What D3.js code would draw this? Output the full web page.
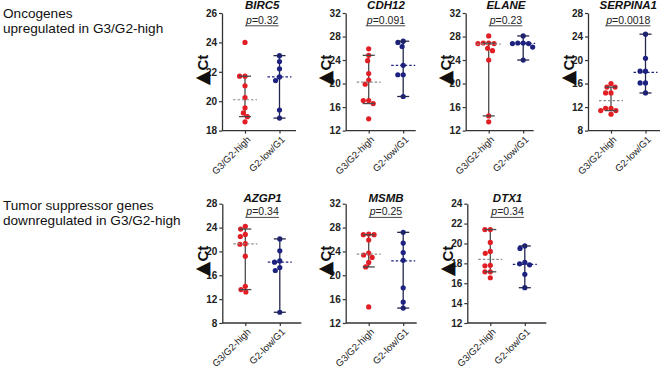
<!DOCTYPE html>
<html><head><meta charset="utf-8">
<script src="https://cdn.jsdelivr.net/npm/d3@7"></script>
<style>
body{margin:0;background:#fff}
svg{display:block}
text{font-family:"Liberation Sans",Arial,Helvetica,sans-serif}
</style>
</head><body>
<svg id="c" width="669" height="369"></svg>
<script>
// ---------- data ----------
const genes = ["BIRC5","CDH12","ELANE","SERPINA1","AZGP1","MSMB","DTX1"];
const groups = ["G3/G2-high","G2-low/G1"];
const pValues = ["0.32","0.091","0.23","0.0018","0.34","0.25","0.34"];
const rowLabels = [["Oncogenes","upregulated in G3/G2-high"],["Tumor suppressor genes","downregulated in G3/G2-high"]];
const yLabelParts = ["\u25B2","Ct"];
const yTicks = [
  [18,20,22,24,26],
  [12,16,20,24,28,32],
  [12,16,20,24,28,32],
  [8,12,16,20,24,28],
  [8,12,16,20,24,28],
  [12,16,20,24,28,32],
  [12,14,16,18,20,22,24]
];
// G3/G2-high values (red)
const highValues = [
  [24.0,21.7,21.7,21.05,20.25,19.55,19.2,18.95,18.6],
  [25.9,24.8,23.9,21.7,20.6,19.9,17.1,17.1,16.6,14.0],
  [28.1,26.9,26.8,26.8,26.9,26.0,25.6,24.0,14.5,13.5],
  [16.0,15.4,15.4,14.4,14.4,11.8,11.8,11.4,11.4,10.8],
  [24.2,23.75,22.85,22.5,21.3,21.2,19.2,14.15,13.6,13.2],
  [26.9,26.8,26.8,25.9,23.7,23.4,23.0,22.15,21.4,14.7],
  [21.4,21.4,20.1,19.2,19.0,17.8,17.75,17.15,17.15,16.55]
];
// G2-low/G1 values (blue)
const lowValues = [
  [23.1,22.7,22.2,21.65,21.4,19.4,18.85],
  [27.2,27.0,26.3,23.1,21.5,21.5,17.8],
  [28.1,26.9,26.8,26.9,26.8,26.2,24.0],
  [24.4,20.3,18.1,18.1,16.1,16.1,14.4],
  [22.1,20.1,18.4,18.2,17.3,16.8,9.8],
  [27.2,25.4,23.8,22.5,17.9,15.5,14.5],
  [19.75,19.5,18.1,17.95,17.85,16.9,15.55]
];
// median with 95% CI
const highMedian = [20.1,20.25,26.7,13.1,21.25,23.55,18.4];
const highLower  = [18.95,16.6,14.5,11.4,13.6,21.4,17.15];
const highUpper  = [21.7,24.8,26.85,15.4,23.75,26.8,21.4];
const lowMedian  = [21.65,23.1,26.85,17.9,18.2,22.4,17.9];
const lowLower   = [18.85,17.8,24.0,14.4,9.8,14.5,15.55];
const lowUpper   = [23.1,27.2,28.1,24.4,22.1,27.2,19.75];

// ---------- layout ----------
const rowGeom = [
  {top:13, bottom:130.6, title:8.8, p:23.6, ylab:70},
  {top:203.7, bottom:323, title:202.4, p:215.2, ylab:261}
];
const panelGeom = [
  {x:222, w:74, row:0},
  {x:345.7, w:70, row:0},
  {x:465.7, w:68, row:0},
  {x:588, w:72, row:0},
  {x:222.3, w:79, row:1},
  {x:345.7, w:71, row:1},
  {x:467.3, w:79, row:1}
];
const RED = "#e21d24", BLUE = "#1d2280";
const barColor = ["#4a4a4a", "#23264f"];
const medColor = ["#8a8a8a", "#1d2280"];
const R = 2.6, D = 5.4;

const svg = d3.select("#c");

// row labels
rowLabels.forEach((lines, r) => {
  const t = svg.append("text").attr("x", 3).attr("y", r === 0 ? 17.8 : 209.5)
    .attr("font-size", "13.6px").attr("fill", "#111");
  lines.forEach((l, i) => t.append("tspan").attr("x", 3).attr("dy", i === 0 ? 0 : 15).text(l));
});

function swarm(vals, y) {
  const pts = vals.map(v => ({v, y: y(v)})).sort((a, b) => a.y - b.y);
  const placed = [];
  pts.forEach(p => {
    const ints = [];
    placed.forEach(q => {
      const dy = Math.abs(q.y - p.y);
      if (dy < D) { const h = Math.sqrt(D * D - dy * dy); ints.push([q.dx - h, q.dx + h]); }
    });
    const cands = [0];
    ints.forEach(([a, b]) => cands.push(a, b));
    cands.sort((a, b) => Math.abs(a) - Math.abs(b) || a - b);
    const ok = c => ints.every(([a, b]) => c <= a + 1e-6 || c >= b - 1e-6);
    p.dx = cands.find(ok);
    placed.push(p);
  });
  return pts;
}

genes.forEach((gene, i) => {
  const L = panelGeom[i], G = rowGeom[L.row];
  const ticks = yTicks[i];
  const y = d3.scaleLinear().domain([ticks[0], ticks[ticks.length - 1]]).range([G.bottom, G.top]);
  const x = d3.scalePoint().domain(groups).range([L.x + 23, L.x + 57.5]);
  const g = svg.append("g");

  // y axis
  const ya = g.append("g").attr("transform", `translate(${L.x},0)`)
    .call(d3.axisLeft(y).tickValues(ticks).tickSize(3).tickSizeOuter(0).tickPadding(2));
  ya.select(".domain").attr("stroke", "#333").attr("stroke-width", 1.3);
  ya.selectAll(".tick line").attr("stroke", "#333").attr("stroke-width", 1.2);
  ya.selectAll(".tick text").attr("font-size", "10px").attr("font-weight", "bold").attr("fill", "#222")
    .style("font-family", '"Liberation Sans",Arial,sans-serif');

  // x axis
  const xa = g.append("g").attr("transform", `translate(0,${G.bottom})`)
    .call(d3.axisBottom(x).tickSize(3).tickSizeOuter(0));
  xa.select(".domain").attr("d", `M${L.x},0H${L.x + L.w}`).attr("stroke", "#333").attr("stroke-width", 1.3);
  xa.selectAll(".tick line").attr("stroke", "#333").attr("stroke-width", 1.2);
  xa.selectAll(".tick text")
    .attr("x", 0).attr("y", 0).attr("dy", 0)
    .attr("transform", "translate(5.5,9.5) rotate(-45)")
    .attr("text-anchor", "end").attr("font-size", "9.6px").attr("fill", "#222")
    .style("font-family", '"Liberation Sans",Arial,sans-serif');

  // y label
  const yl = g.append("text").attr("transform", `translate(${L.x - 14.5},${G.ylab}) rotate(-90)`)
    .attr("text-anchor", "middle").attr("font-weight", "bold").attr("fill", "#111");
  yl.append("tspan").attr("font-size", "19px").style("font-family", '"DejaVu Sans",sans-serif').text(yLabelParts[0]);
  yl.append("tspan").attr("font-size", "15px").text(yLabelParts[1]);

  const mid = (x(groups[0]) + x(groups[1])) / 2;
  // title
  g.append("text").attr("x", mid).attr("y", G.title).attr("text-anchor", "middle")
    .attr("font-size", "11.5px").attr("font-weight", "bold").attr("font-style", "italic")
    .attr("fill", "#111").text(gene);
  // p-value
  const pt = g.append("text").attr("x", mid).attr("y", G.p).attr("text-anchor", "middle")
    .attr("font-size", "10.5px").attr("fill", "#222");
  pt.append("tspan").attr("font-style", "italic").text("p");
  pt.append("tspan").text("=" + pValues[i]);
  const bb = pt.node().getBBox();
  g.append("line").attr("x1", bb.x).attr("x2", bb.x + bb.width)
    .attr("y1", G.p + 2.2).attr("y2", G.p + 2.2).attr("stroke", "#333").attr("stroke-width", 0.9);

  const sets = [
    {vals: highValues[i], med: highMedian[i], lo: highLower[i], hi: highUpper[i], col: RED},
    {vals: lowValues[i], med: lowMedian[i], lo: lowLower[i], hi: lowUpper[i], col: BLUE}
  ];
  sets.forEach((s, k) => {
    const cx = x(groups[k]);
    g.append("line").attr("x1", cx).attr("x2", cx).attr("y1", y(s.lo)).attr("y2", y(s.hi))
      .attr("stroke", barColor[k]).attr("stroke-width", 1.3);
    g.selectAll(null).data(swarm(s.vals, y)).enter().append("circle")
      .attr("cx", d => cx + d.dx).attr("cy", d => d.y).attr("r", R).attr("fill", s.col);
    [s.lo, s.hi].forEach(v => g.append("line").attr("x1", cx - 6).attr("x2", cx + 6)
      .attr("y1", y(v)).attr("y2", y(v)).attr("stroke", barColor[k]).attr("stroke-width", 1.3));
    g.append("line").attr("x1", cx - 12).attr("x2", cx + 12).attr("y1", y(s.med)).attr("y2", y(s.med))
      .attr("stroke", medColor[k]).attr("stroke-width", 1.2).attr("stroke-dasharray", "2.5,2");
  });
});
</script>
</body></html>
